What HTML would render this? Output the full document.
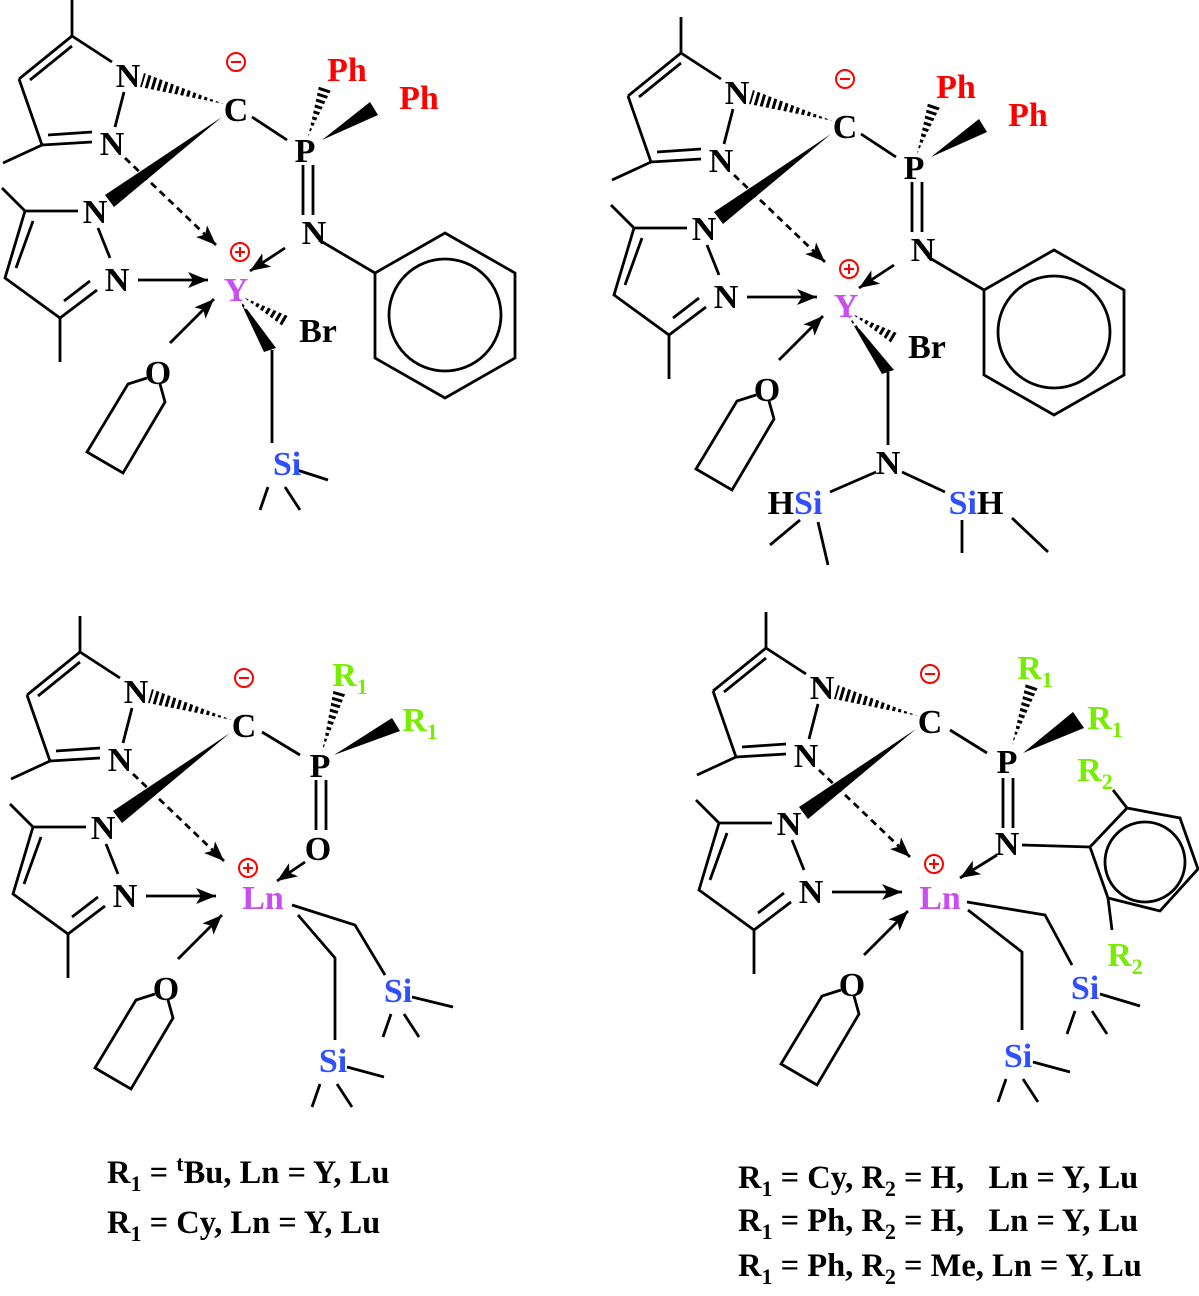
<!DOCTYPE html>
<html><head><meta charset="utf-8"><style>
html,body{margin:0;padding:0;background:#fff;}
svg{display:block}
text{font-family:"Liberation Serif",serif;font-weight:bold;font-size:34px;text-anchor:middle}
.r{fill:#f00}.p{fill:#c84ef0}.b{fill:#3050ff}.g{fill:#77ee00}
.t{text-anchor:start;font-size:32.5px;white-space:pre}
</style></head><body>
<svg width="1199" height="1296" viewBox="0 0 1199 1296" xmlns="http://www.w3.org/2000/svg">
<defs>
<marker id="ah" markerUnits="userSpaceOnUse" markerWidth="22" markerHeight="16" refX="20" refY="8" orient="auto"><path d="M0,0 L20,8 L0,16 L5,8 Z" fill="#000"/></marker>
<g id="core">
 <g stroke="#000" stroke-width="2.8" fill="none">
  <path d="M72,0 L72,36 L112,62 M124,92 L115,127 M92,142 L42,145 M92,132 L48,135 M72,36 L19,79 M30,80 L72,46 M19,79 L42,145 L3,163"/>
  <path d="M2,188 L25,211 L78,211 M98,228 L110,258 M97,290 L60,318 M90,281 L64,301 M60,318 L60,362 M60,318 L5,278 L25,211 M16,268 L33,221"/>
  <path d="M147,378 L128,384 L87,452 L123,473 L165,402 L160,384"/>
  <path d="M170,343 L214,299" marker-end="url(#ah)"/>
  <path d="M138,280 L208,280" marker-end="url(#ah)"/>
  <path d="M125,158 L216,245" stroke-dasharray="7 5" marker-end="url(#ah)"/>
 </g>
 <polygon points="224,104 140,87 144,73" fill="#000"/>
 <line x1="138" y1="79" x2="226" y2="105" stroke="#fff" stroke-width="20" stroke-dasharray="3 3"/>
 <polygon points="222,117 105,195 114,207" fill="#000"/>
 <text x="128" y="87">N</text><text x="112" y="155">N</text>
 <text x="95" y="223">N</text><text x="117" y="291">N</text>
 <text x="236" y="121">C</text><text x="158" y="384">O</text>
 <g stroke="#f00" stroke-width="2" fill="none"><circle cx="236" cy="62" r="9"/><path d="M231,62 H241"/><circle cx="240" cy="252" r="9"/><path d="M235,252 H245 M240,247 V257"/></g>
</g>
</defs>

<use href="#core"/>
<use href="#core" transform="translate(609,17)"/>
<use href="#core" transform="translate(8,616)"/>
<use href="#core" transform="translate(694,612)"/>

<g stroke="#000" stroke-width="2.8" fill="none">
 <path d="M252,117 L287,140 M303,165 V215 M313,165 V215 M319,240 L375,273"/>
 <path d="M285,248 L250,271" marker-end="url(#ah)"/>
 <polygon points="445,233 515,273 515,358 445,398 375,358 375,273"/>
 <circle cx="445" cy="315" r="56"/>
 <path d="M272,350 V443 M297,470 L328,480 M268,487 L260,510 M285,487 L300,510"/>
 <path d="M861,134 L896,157 M912,182 V232 M922,182 V232 M928,257 L984,290"/>
 <path d="M894,265 L859,288" marker-end="url(#ah)"/>
 <polygon points="1054,250 1124,290 1124,375 1054,415 984,375 984,290"/>
 <circle cx="1054" cy="332" r="56"/>
 <path d="M888,372 V445 M876,472 L830,492 M902,472 L945,492 M800,520 L770,545 M818,522 L828,565 M962,520 V553 M1012,518 L1048,552"/>
 <path d="M262,732 L300,755 M316,780 V830 M326,780 V830"/>
 <path d="M305,862 L277,881" marker-end="url(#ah)"/>
 <path d="M292,905 L355,925 L385,975 M298,915 L335,958 V1040"/>
 <path d="M412,997 L453,1007 M391,1014 L383,1037 M404,1014 L419,1037"/>
 <path d="M347,1067 L384,1077 M320,1084 L312,1107 M337,1084 L352,1107"/>
 <path d="M950,730 L987,753 M1003,778 V828 M1013,778 V828 M1022,845 L1090,847 M1113,790 L1127,808 M1108,898 L1112,930"/>
 <path d="M997,855 L960,878" marker-end="url(#ah)"/>
 <polygon points="1127,808 1180,818 1198,869 1160,911 1108,898 1090,847"/>
 <circle cx="1145" cy="862" r="40"/>
 <path d="M967,902 L1045,915 L1072,965 M968,910 L1022,952 V1030"/>
 <path d="M1100,994 L1140,1006 M1075,1011 L1067,1034 M1092,1011 L1107,1034"/>
 <path d="M1033,1062 L1070,1072 M1006,1079 L998,1102 M1023,1079 L1038,1102"/>
</g>

<g fill="#000">
 <polygon points="308,137 331,90 319,86"/><polygon points="322,140 370,102 378,115"/>
 <polygon points="243,297 284,327 290,317"/><polygon points="238,297 264,352 276,348"/>
 <polygon points="917,154 940,107 928,103"/><polygon points="931,157 979,119 987,132"/>
 <polygon points="852,314 893,344 899,334"/><polygon points="847,314 882,374 894,370"/>
 <polygon points="322,752 346,692 334,688"/><polygon points="334,755 392,718 400,731"/>
 <polygon points="1012,745 1038,687 1026,683"/><polygon points="1023,753 1073,712 1084,728"/>
</g>
<g stroke="#fff" stroke-width="18" stroke-dasharray="3 3">
 <line x1="308" y1="140" x2="326" y2="85"/>
 <line x1="243" y1="297" x2="290" y2="325"/>
 <line x1="917" y1="157" x2="935" y2="102"/>
 <line x1="852" y1="314" x2="899" y2="342"/>
 <line x1="321" y1="756" x2="341" y2="687"/>
 <line x1="1011" y1="749" x2="1033" y2="682"/>
</g>

<text x="305" y="162">P</text><text class="r" x="347" y="81">Ph</text><text class="r" x="419" y="109">Ph</text>
<text x="314" y="244">N</text><text class="p" x="236" y="301">Y</text><text x="318" y="342">Br</text><text class="b" x="287" y="475">Si</text>

<text x="914" y="179">P</text><text class="r" x="956" y="98">Ph</text><text class="r" x="1028" y="126">Ph</text>
<text x="923" y="261">N</text><text class="p" x="846" y="317">Y</text><text x="927" y="358">Br</text>
<text x="888" y="474">N</text><text x="795" y="514">H<tspan class="b">Si</tspan></text><text x="976" y="514"><tspan class="b">Si</tspan>H</text>

<text x="320" y="777">P</text><text x="318" y="860">O</text><text class="p" x="263" y="909">Ln</text>
<text class="g" x="350" y="686">R<tspan font-size="22" dy="8">1</tspan></text>
<text class="g" x="420" y="731">R<tspan font-size="22" dy="8">1</tspan></text>
<text class="b" x="398" y="1002">Si</text><text class="b" x="333" y="1072">Si</text>

<text x="1007" y="773">P</text><text x="1007" y="855">N</text><text class="p" x="940" y="909">Ln</text>
<text class="g" x="1035" y="679">R<tspan font-size="22" dy="8">1</tspan></text>
<text class="g" x="1105" y="729">R<tspan font-size="22" dy="8">1</tspan></text>
<text class="g" x="1095" y="781">R<tspan font-size="22" dy="8">2</tspan></text>
<text class="g" x="1125" y="966">R<tspan font-size="22" dy="8">2</tspan></text>
<text class="b" x="1085" y="999">Si</text><text class="b" x="1018" y="1067">Si</text>

<text class="t" x="107" y="1183">R<tspan font-size="22" dy="8">1</tspan><tspan dy="-8"> = </tspan><tspan font-size="22" dy="-12">t</tspan><tspan dy="12">Bu, Ln = Y, Lu</tspan></text>
<text class="t" x="107" y="1233">R<tspan font-size="22" dy="8">1</tspan><tspan dy="-8"> = Cy, Ln = Y, Lu</tspan></text>
<text class="t" x="738" y="1188">R<tspan font-size="22" dy="8">1</tspan><tspan dy="-8"> = Cy, R</tspan><tspan font-size="22" dy="8">2</tspan><tspan dy="-8"> = H,&#160;&#160;&#160;Ln = Y, Lu</tspan></text>
<text class="t" x="738" y="1231">R<tspan font-size="22" dy="8">1</tspan><tspan dy="-8"> = Ph, R</tspan><tspan font-size="22" dy="8">2</tspan><tspan dy="-8"> = H,&#160;&#160;&#160;Ln = Y, Lu</tspan></text>
<text class="t" x="738" y="1276">R<tspan font-size="22" dy="8">1</tspan><tspan dy="-8"> = Ph, R</tspan><tspan font-size="22" dy="8">2</tspan><tspan dy="-8"> = Me, Ln = Y, Lu</tspan></text>
</svg>
</body></html>
